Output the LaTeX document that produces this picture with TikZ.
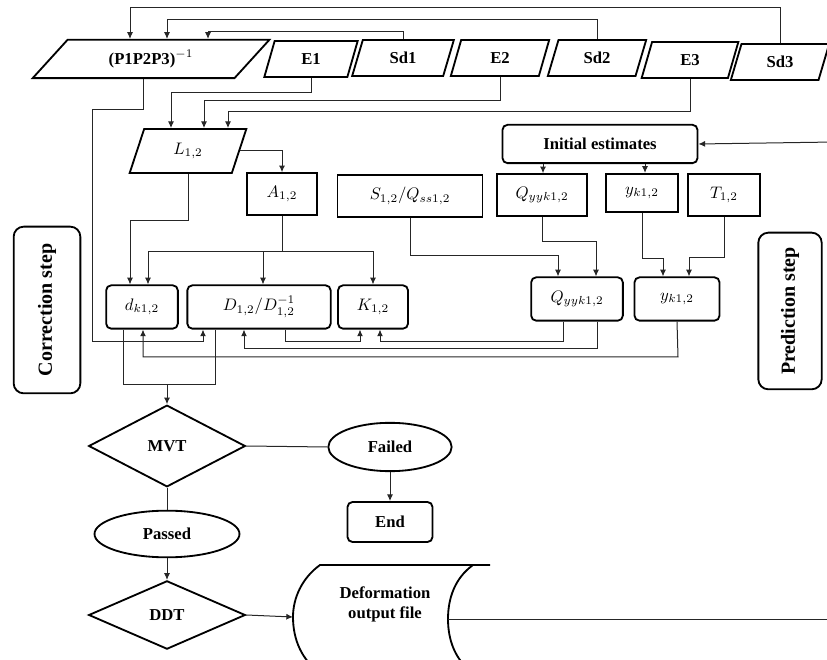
\documentclass[tikz,border=0pt]{standalone}
\usepackage{fontspec}
\setmainfont{Liberation Serif}
\usepackage{amsmath}
\usetikzlibrary{positioning,arrows.meta,shapes.geometric}

\begin{document}
\begin{tikzpicture}[x=0.6pt,y=-0.6pt,
  >={Latex[length=4pt,width=3.6pt]},
  ln/.style={line width=0.6pt,black!85},
  arr/.style={ln,->},
  inp/.style={draw,line width=1.1pt,trapezium,trapezium left angle=65,
    trapezium right angle=115,trapezium stretches body,minimum height=21.6pt,
    minimum width=60pt,inner xsep=1pt,font=\bfseries},
  box/.style={draw,line width=1.1pt,rectangle,minimum height=25pt,inner sep=2pt},
  rbox/.style={box,rounded corners=3pt},
  dec/.style={draw,line width=1.1pt,diamond,minimum width=94pt,font=\bfseries},
  term/.style={draw,line width=1.1pt,ellipse,minimum height=29pt,font=\bfseries},
  side/.style={draw,line width=1.1pt,rounded corners=6pt,rotate=90,
    font=\bfseries\large}]
\useasboundingbox (0,0) rectangle (827,660);

% inputs
\node at (151,59) (P) [inp,trapezium left angle=39,trapezium right angle=141,
  minimum width=142pt,minimum height=23pt] {(P1P2P3)$^{-1}$};
\node at (311,59) (E1) [inp,minimum width=56pt] {E1};
\node at (403,58) (Sd1) [inp,minimum width=61pt] {Sd1};
\node at (500,58) (E2) [inp,minimum width=59pt] {E2};
\node at (597,58) (Sd2) [inp,minimum width=59pt] {Sd2};
\node at (690,60) (E3) [inp,minimum width=58pt] {E3};
\node at (780,62) (Sd3) [inp,minimum width=59pt] {Sd3};

\node at (188,151) (L) [inp,trapezium left angle=62,trapezium right angle=118,
  minimum width=70pt,minimum height=26.4pt,font=\normalfont] {$L_{1,2}$};
\node at (282,194) (A) [box,minimum width=42pt] {$A_{1,2}$};
\node at (410,196) (S) [box,minimum width=87pt] {$S_{1,2}/Q_{ss1,2}$};
\node at (600,144) (Init) [rbox,minimum width=117pt,minimum height=23pt,
  font=\bfseries] {Initial estimates};
\node at (542,195) (Qa) [box,minimum width=54pt] {$Q_{yyk1,2}$};
\node at (642,193) (ya) [box,minimum width=43pt,minimum height=23pt] {$y_{k1,2}$};
\node at (724,195) (T) [box,minimum width=43pt] {$T_{1,2}$};

\node at (142,307) (d) [rbox,minimum width=43pt,minimum height=26pt] {$d_{k1,2}$};
\node at (259,307) (D) [rbox,minimum width=86pt,minimum height=26pt] {$D_{1,2}/D^{-1}_{1,2}$};
\node at (373,307) (K) [rbox,minimum width=42pt,minimum height=26pt] {$K_{1,2}$};
\node at (577,299) (Qb) [rbox,minimum width=55pt,minimum height=26pt] {$Q_{yyk1,2}$};
\node at (677,299) (yb) [rbox,minimum width=51pt,minimum height=26pt] {$y_{k1,2}$};

\node at (47,310) (corr) [side,minimum width=100pt,minimum height=40pt] {Correction step};
\node at (790,311) (pred) [side,minimum width=94pt,minimum height=38pt] {Prediction step};

\node at (167,446) (mvt) [dec,minimum height=49pt] {MVT};
\node at (390,447) (fail) [term,minimum width=74pt] {Failed};
\node at (390,522) (end) [rbox,minimum width=51pt,minimum height=24pt,font=\bfseries] {End};
\node at (167,534) (pass) [term,minimum width=87pt,minimum height=28pt] {Passed};
\node at (167,615) (ddt) [dec,minimum height=39pt] {DDT};

\node at (385,604) (out) [align=center,font=\bfseries] {Deformation\\output file};
\coordinate (outw) at (293,617);
\coordinate (oute) at (448,619);
\draw[line width=1.1pt] (490,565) -- (320,565)
  .. controls (302,578) and (293,598) .. (outw)
  .. controls (293,640) and (302,660) .. (320,673) -- (490,673);
\draw[line width=1.1pt] (473,565) .. controls (455,578) and (448,598) .. (oute)
  .. controls (448,640) and (455,660) .. (473,673);
\coordinate (r1) at (835,142);
\coordinate (r2) at (835,619);

% feedback to inverse
\draw[arr] (Sd3.north) -- ++(0,-36) -| (130,0 |- P.north);
\draw[arr] (Sd2.north) -- ++(0,-20) -| (167,0 |- P.north);
\draw[arr] (Sd1.north) -- ++(0,-8) -| (208,0 |- P.north);
\draw[arr] (E1.south) -- ++(0,15) -| (171,0 |- L.north);
\draw[arr] (E2.south) -- ++(0,24) -| (204,0 |- L.north);
\draw[arr] (E3.south) -- ++(0,33) -| (228,0 |- L.north);
\draw[arr] (143,0 |- P.south) |- (92,110) |- (203,342) -- (203,0 |- D.south);

\draw[arr] (L.east) -| (A.north);
\draw[arr] (L.south) -- ++(0,47) -| (130,0 |- d.north);
\draw[ln] (A.south) -- ++(0,36) coordinate (aj);
\draw[arr] (aj) -| (148,0 |- d.north);
\draw[arr] (aj) -| (263,0 |- D.north);
\draw[arr] (aj) -| (K.north);

\draw[arr] (r1) -- (Init.east);
\draw[arr] (543,0 |- Init.south) -- (543,0 |- Qa.north);
\draw[arr] (645,0 |- Init.south) -- (645,0 |- ya.north);
\draw[arr] (S.south) -- ++(0,38) -| (558,0 |- Qb.north);
\draw[arr] (Qa.south) -- ++(0,25) -| (596,0 |- Qb.north);
\draw[arr] (ya.south) -- ++(0,45) -| (663,0 |- yb.north);
\draw[arr] (T.south) -- ++(0,41) -| (689,0 |- yb.north);

\draw[arr] (563,0 |- Qb.south) -- (563,342) -| (380,0 |- K.south);
\draw[arr] (285,0 |- D.south) -- (285,342) -| (360,0 |- K.south);
\draw[arr] (597,0 |- Qb.south) -- (597,349) -| (244,0 |- D.south);
\draw[arr] (yb.south) -- (678,357) -| (143,0 |- d.south);

\draw[ln] (123,0 |- d.south) |- (215,385) -- (215,0 |- D.south);
\draw[arr] (mvt.north |- 0,385) -- (mvt.north);
\draw[ln] (mvt.east) -- (fail.west);
\draw[arr] (fail.south) -- (end.north);
\draw[ln] (mvt.south) -- (pass.north);
\draw[arr] (pass.south) -- (ddt.north);
\draw[arr] (ddt.east) -- (outw);
\draw[ln] (oute) -- (r2);
\end{tikzpicture}
\end{document}
